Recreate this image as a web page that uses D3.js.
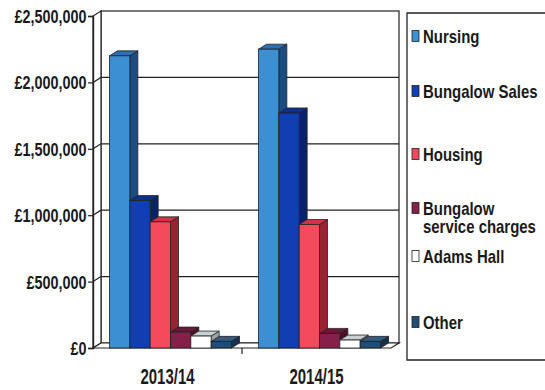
<!DOCTYPE html>
<html><head><meta charset="utf-8">
<script src="https://cdn.jsdelivr.net/npm/d3@7"></script>
<style>
html,body{margin:0;padding:0;background:#fff;}
text{font-family:"Liberation Sans Narrow","Arial Narrow","Liberation Sans",sans-serif;font-weight:bold;fill:#1a1a1a;}
</style></head>
<body><svg id="c" width="545" height="390"></svg>
<script>
const categories = ["2013/14", "2014/15"];
const seriesNames = ["Nursing", "Bungalow Sales", "Housing", "Bungalow service charges", "Adams Hall", "Other"];
const nursing = [2200000, 2250000];
const bungalowSales = [1110000, 1770000];
const housing = [950000, 930000];
const bungalowServiceCharges = [120000, 110000];
const adamsHall = [90000, 60000];
const other = [50000, 50000];
const yTicks = [0, 500000, 1000000, 1500000, 2000000, 2500000];

const seriesValues = [nursing, bungalowSales, housing, bungalowServiceCharges, adamsHall, other];
const colors = [
  {front:"#3b8fd2", top:"#2a6fb0", side:"#1c4d80"},
  {front:"#0f3fb2", top:"#0b3090", side:"#082466"},
  {front:"#f44a5c", top:"#d43345", side:"#9a2232"},
  {front:"#84204a", top:"#6a1838", side:"#4a1028"},
  {front:"#ffffff", top:"#c8d0d2", side:"#9aa4a8"},
  {front:"#1f4d76", top:"#2e5e88", side:"#14304c"}
];

const svg = d3.select("#c");
const dx = 8, dy = -5;
const x0 = 93, x1 = 391, yBottom = 348, yTop = 16;

const y = d3.scaleLinear().domain([0, 2500000]).range([yBottom, yTop]);
const xCat = d3.scaleBand().domain(categories).range([x0, x1]).padding(0);
const xSer = d3.scaleBand().domain(seriesNames).range([16.5, 138.5]).padding(0);

const g = svg.append("g");
g.append("rect").attr("x", x0+dx).attr("y", y(2500000)+dy).attr("width", x1-x0).attr("height", yBottom-y(2500000))
  .attr("fill","#fff").attr("stroke","#222").attr("stroke-width",1.2);
g.append("path").attr("d", `M${x0},${yBottom} L${x0+dx},${yBottom+dy} L${x0+dx},${y(2500000)+dy} L${x0},${y(2500000)} Z`)
  .attr("fill","#fff").attr("stroke","#222").attr("stroke-width",1.2);
g.append("path").attr("d", `M${x0},${yBottom} L${x1},${yBottom} L${x1+dx},${yBottom+dy} L${x0+dx},${yBottom+dy} Z`)
  .attr("fill","#fff").attr("stroke","#222").attr("stroke-width",1.2);
yTicks.filter(v => v > 0 && v < 2500000).forEach(v => {
  g.append("path").attr("d", `M${x0},${y(v)} L${x0+dx},${y(v)+dy} L${x1+dx},${y(v)+dy}`)
    .attr("fill","none").attr("stroke","#222").attr("stroke-width",1.2);
});

categories.forEach((cat, ci) => {
  seriesNames.forEach((s, si) => {
    const v = seriesValues[si][ci];
    const bx = xCat(cat) + xSer(s);
    const bw = xSer.bandwidth();
    const ty = y(v);
    const c = colors[si];
    const bg = svg.append("g");
    bg.append("path").attr("d", `M${bx+bw},${yBottom} L${bx+bw+dx},${yBottom+dy} L${bx+bw+dx},${ty+dy} L${bx+bw},${ty} Z`)
      .attr("fill", c.side).attr("stroke","#222").attr("stroke-width",0.8);
    bg.append("path").attr("d", `M${bx},${ty} L${bx+dx},${ty+dy} L${bx+bw+dx},${ty+dy} L${bx+bw},${ty} Z`)
      .attr("fill", c.top).attr("stroke","#222").attr("stroke-width",0.8);
    bg.append("rect").attr("x", bx).attr("y", ty).attr("width", bw).attr("height", yBottom-ty)
      .attr("fill", c.front).attr("stroke","#222").attr("stroke-width",0.8);
  });
});

const yAxis = d3.axisLeft(y).tickValues(yTicks).tickSize(5).tickPadding(3)
  .tickFormat(v => "£" + d3.format(",")(v));
const ya = svg.append("g").attr("transform", `translate(${x0},0)`).call(yAxis);
ya.select(".domain").attr("stroke","#222").attr("stroke-width",1.4);
ya.selectAll(".tick line").attr("stroke","#222").attr("stroke-width",1.2);
ya.selectAll(".tick text").style("font-size","18px").attr("fill","#1a1a1a")
  .attr("transform","scale(0.8,1)").attr("dy","0.36em");

const xAxis = d3.axisBottom(xCat).tickSize(0).tickPadding(20);
const xa = svg.append("g").attr("transform", `translate(0,${yBottom})`).call(xAxis);
xa.select(".domain").remove();
xa.selectAll(".tick text").style("font-size","22px").attr("fill","#1a1a1a").attr("transform","scale(0.68,1)");
svg.append("line").attr("x1", xCat(categories[1])).attr("x2", xCat(categories[1]))
  .attr("y1", yBottom).attr("y2", yBottom+6).attr("stroke","#222").attr("stroke-width",1.2);

const lg = svg.append("g");
lg.append("path").attr("d", "M560,13 L407,13 L407,360 L560,360").attr("fill","#fff").attr("stroke","#222").attr("stroke-width",1.3);
const legendY = [36, 91, 154, 208, 256, 322];
seriesNames.forEach((s, i) => {
  const cy = legendY[i];
  lg.append("rect").attr("x", 412).attr("y", cy-5.5).attr("width", 7).attr("height", 11)
    .attr("fill", colors[i].front).attr("stroke","#222").attr("stroke-width",0.8);
  const t = lg.append("text").attr("transform", `translate(423,${cy+6.5}) scale(0.83,1)`).style("font-size","18px");
  if (s === "Bungalow service charges") {
    t.append("tspan").attr("x", 0).text("Bungalow");
    t.append("tspan").attr("x", 0).attr("dy", 19).text("service charges");
  } else {
    t.text(s);
  }
});
</script></body></html>
